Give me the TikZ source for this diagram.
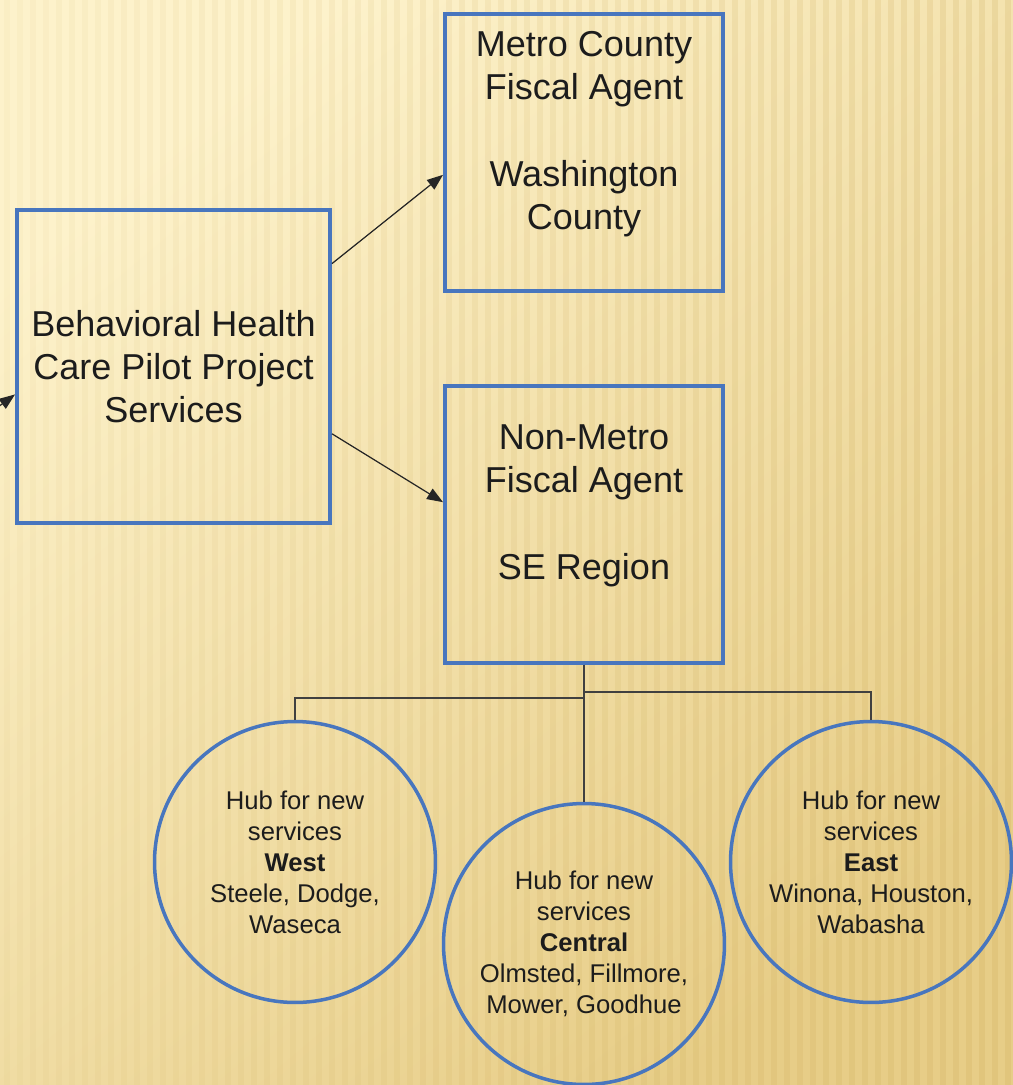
\documentclass[tikz,border=0pt]{standalone}
\usepackage{fontspec}
\setmainfont{Liberation Sans}
\usetikzlibrary{arrows.meta}

\definecolor{boxblue}{RGB}{72,118,190}
\definecolor{bglight}{RGB}{253,242,203}
\definecolor{bgdark}{RGB}{231,205,135}
\definecolor{stripe}{RGB}{200,165,80}
\definecolor{inktext}{RGB}{28,28,28}

\begin{document}
\begin{tikzpicture}[x=0.02cm, y=-0.02cm,
    bluebox/.style={draw=boxblue, line width=0.08cm, minimum width=5.56cm, minimum height=5.54cm, inner sep=0pt},
    hub/.style={circle, draw=boxblue, line width=0.07cm, minimum size=5.62cm, inner sep=0pt},
    bigtext/.style={align=center, text=inktext, font=\fontsize{20.5}{24.5}\selectfont},
    smalltext/.style={align=center, text=inktext, font=\fontsize{14.6}{17.6}\selectfont},
    link/.style={draw=black!85, line width=0.7pt, -{Triangle[length=0.32cm, width=0.24cm]}},
    branch/.style={draw=black!75, line width=0.85pt}]

    % Slide background
    \useasboundingbox (0,0) rectangle (1013,1085);
    \clip (0,0) rectangle (1013,1085);
    \shade[top color=bglight, bottom color=bgdark, shading angle=40] (0,0) rectangle (1013,1085);
    \foreach \x [evaluate=\x as \op using 0.05+0.14*\x/1013] in {4,17,...,1013} {
        \fill[stripe, opacity=\op] (\x,0) rectangle (\x+6,1085);
    }

    % Project box
    \node[bluebox, bigtext, minimum width=6.26cm, minimum height=6.26cm] (behav) at (173.5,366.5)
        {Behavioral Health\\Care Pilot Project\\Services};

    % Fiscal agents
    \node[bluebox] (metro) at (584,152.5) {};
    \node[bigtext] (metrolabel) at (584,134) {Metro County\\Fiscal Agent\\[25pt]Washington\\County};
    \node[bluebox] (nonmetro) at (584,524.5) {};
    \node[bigtext] (nonmetrolabel) at (584,506) {Non-Metro\\Fiscal Agent\\[25pt]SE Region};

    % Hubs
    \node[hub, smalltext] (west) at (295,862) {Hub for new\\services\\\textbf{West}\\Steele, Dodge,\\Waseca};
    \node[hub, smalltext] (central) at (584,944) {Hub for new\\services\\\textbf{Central}\\Olmsted, Fillmore,\\Mower, Goodhue};
    \node[hub, smalltext] (east) at (871,862) {Hub for new\\services\\\textbf{East}\\Winona, Houston,\\Wabasha};

    % Arrows
    \coordinate (offpage) at (-40,435);
    \draw[link] (offpage) -- (behav.190);
    \draw[link] (behav.33) -- (metro.189);
    \draw[link] (behav.-23) -- (nonmetro.171);

    % Tree to hubs
    \draw[branch] (nonmetro.south) -- (central.north);
    \draw[branch] (nonmetro.south) -- ++(0,33) -| (west.north);
    \draw[branch] (nonmetro.south) -- ++(0,27) -| (east.north);
\end{tikzpicture}
\end{document}
